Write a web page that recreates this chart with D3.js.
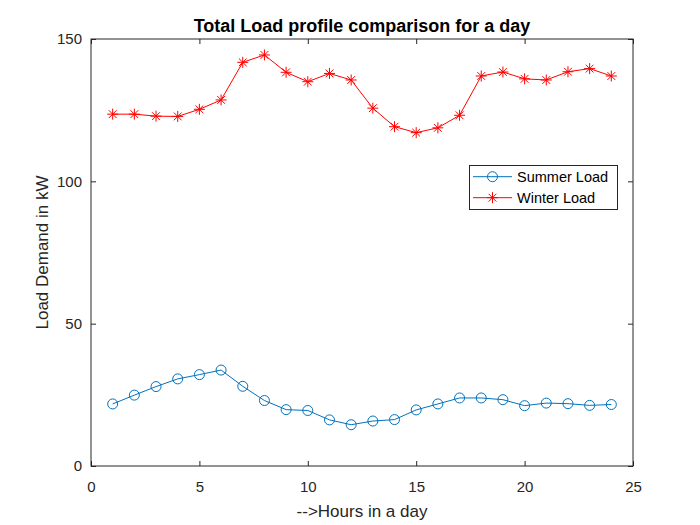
<!DOCTYPE html>
<html>
<head>
<meta charset="utf-8">
<script src="https://cdn.jsdelivr.net/npm/d3@7"></script>
<style>
  body { margin: 0; background: #fff; }
  text { font-family: "Liberation Sans", Arial, sans-serif; }
</style>
</head>
<body>
<script>
const hours = d3.range(1, 25);
const summerLoad = [21.8, 24.9, 27.9, 30.6, 32.1, 33.7, 28.0, 23.0, 19.8, 19.5, 16.2, 14.5,
  15.8, 16.3, 19.7, 21.8, 23.9, 23.9, 23.3, 21.2, 22.1, 21.9, 21.3, 21.6];
const winterLoad = [123.6, 123.6, 122.9, 122.8, 125.3, 128.6, 141.8, 144.4, 138.3, 135.0, 137.9, 135.6,
  125.7, 119.2, 117.1, 118.8, 123.2, 137.0, 138.4, 136.0, 135.6, 138.5, 139.6, 137.0];
const xTicks = [0, 5, 10, 15, 20, 25];
const yTicks = [0, 50, 100, 150];
const seriesNames = ["Summer Load", "Winter Load"];

const width = 700, height = 525;
const margin = { left: 91, right: 67, top: 39, bottom: 59 };
const svg = d3.select("body").append("svg")
  .attr("width", width).attr("height", height);

const x = d3.scaleLinear().domain([0, 25]).range([margin.left, width - margin.right]);
const y = d3.scaleLinear().domain([0, 150]).range([height - margin.bottom, margin.top]);

const ink = "#262626";

// axes (inward ticks, boxed)
const tl = 5;
svg.append("g").attr("transform", `translate(0,${y(0)})`)
  .call(d3.axisBottom(x).tickValues(xTicks).tickSizeInner(-tl).tickSizeOuter(0).tickPadding(15))
  .call(g => g.select(".domain").remove());
svg.append("g").attr("transform", `translate(0,${y(150)})`)
  .call(d3.axisTop(x).tickValues(xTicks).tickSizeInner(-tl).tickSizeOuter(0).tickFormat(""))
  .call(g => g.select(".domain").remove());
svg.append("g").attr("transform", `translate(${x(0)},0)`)
  .call(d3.axisLeft(y).tickValues(yTicks).tickSizeInner(-tl).tickSizeOuter(0).tickPadding(9))
  .call(g => g.select(".domain").remove());
svg.append("g").attr("transform", `translate(${x(25)},0)`)
  .call(d3.axisRight(y).tickValues(yTicks).tickSizeInner(-tl).tickSizeOuter(0).tickFormat(""))
  .call(g => g.select(".domain").remove());

svg.selectAll(".tick line").attr("stroke", ink);
svg.selectAll(".tick text").attr("fill", ink).style("font-size", "15px");

svg.append("rect")
  .attr("x", x(0)).attr("y", y(150))
  .attr("width", x(25) - x(0)).attr("height", y(0) - y(150))
  .attr("fill", "none").attr("stroke", ink).attr("stroke-width", 1);

const line = d3.line().x((d, i) => x(hours[i])).y(d => y(d));

const blue = "#0072BD", red = "#FF0000";

function asterisk(g, cx, cy, s, color) {
  const a = s * Math.cos(Math.PI / 4);
  const p = `M${cx - s},${cy}L${cx + s},${cy}M${cx},${cy - s}L${cx},${cy + s}` +
    `M${cx - a},${cy - a}L${cx + a},${cy + a}M${cx - a},${cy + a}L${cx + a},${cy - a}`;
  g.append("path").attr("d", p).attr("stroke", color).attr("stroke-width", 1).attr("fill", "none");
}

// summer
svg.append("path").datum(summerLoad).attr("d", line)
  .attr("fill", "none").attr("stroke", blue).attr("stroke-width", 1);
svg.append("g").selectAll("circle").data(summerLoad).join("circle")
  .attr("cx", (d, i) => x(hours[i])).attr("cy", d => y(d)).attr("r", 5)
  .attr("fill", "none").attr("stroke", blue).attr("stroke-width", 1);

// winter
svg.append("path").datum(winterLoad).attr("d", line)
  .attr("fill", "none").attr("stroke", red).attr("stroke-width", 1);
const wg = svg.append("g");
winterLoad.forEach((d, i) => asterisk(wg, x(hours[i]), y(d), 5.5, red));

// title and labels
svg.append("text").attr("x", (x(0) + x(25)) / 2).attr("y", 31.5)
  .attr("text-anchor", "middle").style("font-size", "18px").style("font-weight", "bold")
  .attr("fill", "#000").text("Total Load profile comparison for a day");
svg.append("text").attr("x", (x(0) + x(25)) / 2).attr("y", 516.5)
  .attr("text-anchor", "middle").style("font-size", "17px").attr("fill", ink)
  .text("-->Hours in a day");
svg.append("text").attr("transform", `translate(48,${(y(0) + y(150)) / 2}) rotate(-90)`)
  .attr("text-anchor", "middle").style("font-size", "17px").attr("fill", ink)
  .text("Load Demand in kW");

// legend
const lg = svg.append("g");
lg.append("rect").attr("x", 469.5).attr("y", 165.5).attr("width", 148).attr("height", 44)
  .attr("fill", "#fff").attr("stroke", ink).attr("stroke-width", 1);
const legY = [176.7, 197.7];
const legColors = [blue, red];
seriesNames.forEach((name, i) => {
  lg.append("line").attr("x1", 473).attr("x2", 512).attr("y1", legY[i]).attr("y2", legY[i])
    .attr("stroke", legColors[i]).attr("stroke-width", 1);
  if (i === 0) {
    lg.append("circle").attr("cx", 492.5).attr("cy", legY[i]).attr("r", 5)
      .attr("fill", "none").attr("stroke", blue);
  } else {
    asterisk(lg, 492.5, legY[i], 5.5, red);
  }
  lg.append("text").attr("x", 517).attr("y", legY[i] + 5.3)
    .style("font-size", "14.5px").attr("fill", "#000").text(name);
});
</script>
</body>
</html>
